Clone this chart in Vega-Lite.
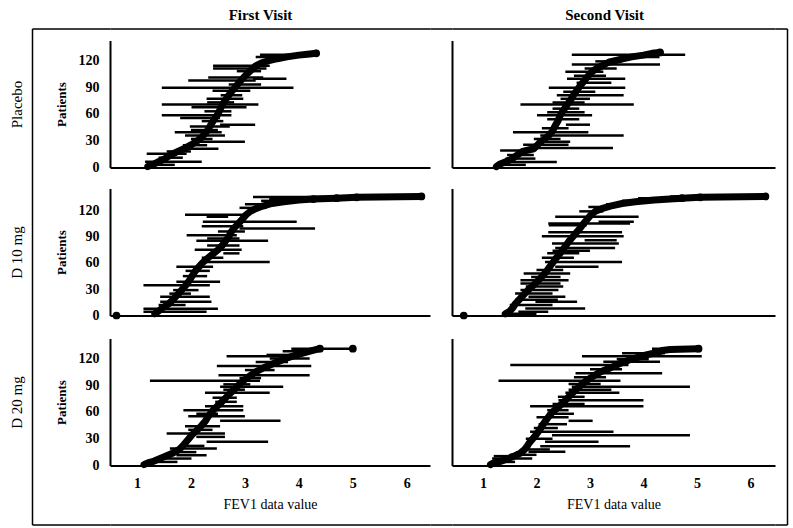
{
"$schema": "https://vega.github.io/schema/vega-lite/v6.json",
"padding": {"left": 9, "top": 6.5, "right": 4, "bottom": 2},
"background": "white",
"config": {"view": {"stroke": null}, "font": "Liberation Serif",
  "axis": {"grid": false, "ticks": false, "labelOverlap": false, "domainColor": "black", "labelColor": "black", "titleColor": "black", "labelFont": "Liberation Serif", "titleFont": "Liberation Serif"},
  "axisY": {"labelOverlap": false}},
"datasets": {
"z": [{"z": 0}],
"curve": [
{"g":"P1","p":1,"v":1.20},{"g":"P1","p":4,"v":1.32},{"g":"P1","p":7,"v":1.42},{"g":"P1","p":10,"v":1.52},{"g":"P1","p":14,"v":1.62},{"g":"P1","p":18,"v":1.76},{"g":"P1","p":22,"v":1.90},{"g":"P1","p":26,"v":2.02},{"g":"P1","p":30,"v":2.12},{"g":"P1","p":34,"v":2.20},{"g":"P1","p":38,"v":2.26},{"g":"P1","p":42,"v":2.31},{"g":"P1","p":46,"v":2.35},{"g":"P1","p":50,"v":2.39},{"g":"P1","p":55,"v":2.44},{"g":"P1","p":60,"v":2.50},{"g":"P1","p":65,"v":2.54},{"g":"P1","p":70,"v":2.58},{"g":"P1","p":75,"v":2.63},{"g":"P1","p":80,"v":2.69},{"g":"P1","p":85,"v":2.75},{"g":"P1","p":90,"v":2.82},{"g":"P1","p":95,"v":2.89},{"g":"P1","p":100,"v":2.96},{"g":"P1","p":105,"v":3.04},{"g":"P1","p":110,"v":3.13},{"g":"P1","p":114,"v":3.20},{"g":"P1","p":117,"v":3.30},{"g":"P1","p":120,"v":3.45},{"g":"P1","p":122,"v":3.60},{"g":"P1","p":124,"v":3.78},{"g":"P1","p":126,"v":4.00},{"g":"P1","p":127,"v":4.16},{"g":"P1","p":128,"v":4.32},
{"g":"P2","p":1,"v":1.25},{"g":"P2","p":4,"v":1.32},{"g":"P2","p":7,"v":1.45},{"g":"P2","p":10,"v":1.55},{"g":"P2","p":14,"v":1.64},{"g":"P2","p":18,"v":1.74},{"g":"P2","p":21,"v":1.95},{"g":"P2","p":24,"v":2.00},{"g":"P2","p":28,"v":2.06},{"g":"P2","p":32,"v":2.15},{"g":"P2","p":36,"v":2.23},{"g":"P2","p":41,"v":2.30},{"g":"P2","p":47,"v":2.35},{"g":"P2","p":52,"v":2.40},{"g":"P2","p":58,"v":2.44},{"g":"P2","p":64,"v":2.50},{"g":"P2","p":70,"v":2.57},{"g":"P2","p":75,"v":2.63},{"g":"P2","p":81,"v":2.69},{"g":"P2","p":86,"v":2.75},{"g":"P2","p":92,"v":2.82},{"g":"P2","p":97,"v":2.89},{"g":"P2","p":103,"v":2.97},{"g":"P2","p":107,"v":3.03},{"g":"P2","p":110,"v":3.10},{"g":"P2","p":114,"v":3.22},{"g":"P2","p":118,"v":3.35},{"g":"P2","p":121,"v":3.55},{"g":"P2","p":124,"v":3.78},{"g":"P2","p":126,"v":4.00},{"g":"P2","p":128,"v":4.16},{"g":"P2","p":129,"v":4.31},
{"g":"D1","p":2,"v":1.33},{"g":"D1","p":5,"v":1.40},{"g":"D1","p":9,"v":1.48},{"g":"D1","p":13,"v":1.58},{"g":"D1","p":17,"v":1.65},{"g":"D1","p":21,"v":1.71},{"g":"D1","p":25,"v":1.77},{"g":"D1","p":30,"v":1.84},{"g":"D1","p":35,"v":1.91},{"g":"D1","p":40,"v":1.97},{"g":"D1","p":45,"v":2.02},{"g":"D1","p":50,"v":2.07},{"g":"D1","p":55,"v":2.14},{"g":"D1","p":60,"v":2.21},{"g":"D1","p":65,"v":2.30},{"g":"D1","p":70,"v":2.40},{"g":"D1","p":75,"v":2.50},{"g":"D1","p":80,"v":2.58},{"g":"D1","p":85,"v":2.64},{"g":"D1","p":90,"v":2.70},{"g":"D1","p":95,"v":2.74},{"g":"D1","p":100,"v":2.80},{"g":"D1","p":105,"v":2.88},{"g":"D1","p":110,"v":2.95},{"g":"D1","p":115,"v":3.02},{"g":"D1","p":119,"v":3.10},{"g":"D1","p":122,"v":3.20},{"g":"D1","p":125,"v":3.33},{"g":"D1","p":128,"v":3.50},{"g":"D1","p":130,"v":3.72},{"g":"D1","p":132,"v":4.00},{"g":"D1","p":133,"v":4.27},{"g":"D1","p":134,"v":4.70},{"g":"D1","p":135,"v":5.07},{"g":"D1","p":136,"v":6.27},
{"g":"D2","p":2,"v":1.42},{"g":"D2","p":5,"v":1.50},{"g":"D2","p":9,"v":1.56},{"g":"D2","p":13,"v":1.60},{"g":"D2","p":17,"v":1.66},{"g":"D2","p":21,"v":1.72},{"g":"D2","p":25,"v":1.78},{"g":"D2","p":30,"v":1.86},{"g":"D2","p":35,"v":1.95},{"g":"D2","p":40,"v":2.03},{"g":"D2","p":45,"v":2.11},{"g":"D2","p":50,"v":2.18},{"g":"D2","p":55,"v":2.24},{"g":"D2","p":60,"v":2.30},{"g":"D2","p":65,"v":2.36},{"g":"D2","p":70,"v":2.43},{"g":"D2","p":75,"v":2.49},{"g":"D2","p":80,"v":2.55},{"g":"D2","p":85,"v":2.61},{"g":"D2","p":90,"v":2.68},{"g":"D2","p":95,"v":2.75},{"g":"D2","p":100,"v":2.82},{"g":"D2","p":105,"v":2.88},{"g":"D2","p":110,"v":2.95},{"g":"D2","p":115,"v":3.02},{"g":"D2","p":119,"v":3.10},{"g":"D2","p":122,"v":3.22},{"g":"D2","p":125,"v":3.38},{"g":"D2","p":128,"v":3.60},{"g":"D2","p":130,"v":3.85},{"g":"D2","p":132,"v":4.20},{"g":"D2","p":134,"v":4.72},{"g":"D2","p":135,"v":5.06},{"g":"D2","p":136,"v":6.28},
{"g":"E1","p":1,"v":1.13},{"g":"E1","p":3,"v":1.20},{"g":"E1","p":5,"v":1.32},{"g":"E1","p":8,"v":1.43},{"g":"E1","p":11,"v":1.55},{"g":"E1","p":14,"v":1.67},{"g":"E1","p":18,"v":1.78},{"g":"E1","p":22,"v":1.85},{"g":"E1","p":25,"v":1.89},{"g":"E1","p":30,"v":1.96},{"g":"E1","p":35,"v":2.03},{"g":"E1","p":40,"v":2.12},{"g":"E1","p":45,"v":2.20},{"g":"E1","p":50,"v":2.27},{"g":"E1","p":55,"v":2.32},{"g":"E1","p":60,"v":2.38},{"g":"E1","p":65,"v":2.46},{"g":"E1","p":70,"v":2.55},{"g":"E1","p":75,"v":2.63},{"g":"E1","p":80,"v":2.71},{"g":"E1","p":85,"v":2.80},{"g":"E1","p":90,"v":2.88},{"g":"E1","p":95,"v":2.97},{"g":"E1","p":100,"v":3.08},{"g":"E1","p":105,"v":3.20},{"g":"E1","p":110,"v":3.36},{"g":"E1","p":114,"v":3.52},{"g":"E1","p":118,"v":3.68},{"g":"E1","p":121,"v":3.80},{"g":"E1","p":124,"v":3.96},{"g":"E1","p":127,"v":4.14},{"g":"E1","p":129,"v":4.26},{"g":"E1","p":131,"v":4.39},
{"g":"E2","p":1,"v":1.14},{"g":"E2","p":3,"v":1.20},{"g":"E2","p":5,"v":1.35},{"g":"E2","p":8,"v":1.48},{"g":"E2","p":11,"v":1.60},{"g":"E2","p":14,"v":1.70},{"g":"E2","p":18,"v":1.78},{"g":"E2","p":22,"v":1.83},{"g":"E2","p":25,"v":1.86},{"g":"E2","p":30,"v":1.93},{"g":"E2","p":35,"v":2.00},{"g":"E2","p":40,"v":2.06},{"g":"E2","p":45,"v":2.11},{"g":"E2","p":50,"v":2.17},{"g":"E2","p":55,"v":2.23},{"g":"E2","p":60,"v":2.30},{"g":"E2","p":65,"v":2.40},{"g":"E2","p":70,"v":2.49},{"g":"E2","p":75,"v":2.57},{"g":"E2","p":80,"v":2.65},{"g":"E2","p":85,"v":2.74},{"g":"E2","p":90,"v":2.83},{"g":"E2","p":95,"v":2.93},{"g":"E2","p":100,"v":3.06},{"g":"E2","p":105,"v":3.20},{"g":"E2","p":110,"v":3.40},{"g":"E2","p":114,"v":3.55},{"g":"E2","p":118,"v":3.72},{"g":"E2","p":121,"v":3.88},{"g":"E2","p":124,"v":4.05},{"g":"E2","p":127,"v":4.28},{"g":"E2","p":129,"v":4.35},{"g":"E2","p":130,"v":4.50},{"g":"E2","p":131,"v":5.03}
],
"rng": [
{"g":"P1","p":126.5,"lo":3.28,"hi":4.33},{"g":"P1","p":124,"lo":3.2,"hi":3.9},{"g":"P1","p":114,"lo":2.41,"hi":3.46},{"g":"P1","p":111,"lo":2.41,"hi":3.40},{"g":"P1","p":108,"lo":2.85,"hi":3.3},{"g":"P1","p":101,"lo":2.32,"hi":3.34},{"g":"P1","p":99.5,"lo":3.15,"hi":3.77},{"g":"P1","p":97.5,"lo":1.95,"hi":3.2},{"g":"P1","p":93,"lo":2.7,"hi":3.3},{"g":"P1","p":89.5,"lo":1.46,"hi":3.9},{"g":"P1","p":86,"lo":2.4,"hi":3.1},{"g":"P1","p":81,"lo":2.55,"hi":2.95},{"g":"P1","p":77,"lo":2.29,"hi":2.97},{"g":"P1","p":73,"lo":2.3,"hi":2.8},{"g":"P1","p":70.5,"lo":1.46,"hi":3.25},{"g":"P1","p":67.5,"lo":2.01,"hi":3.03},{"g":"P1","p":63,"lo":2.25,"hi":2.75},{"g":"P1","p":58.5,"lo":1.46,"hi":2.75},{"g":"P1","p":55.5,"lo":1.8,"hi":2.54},{"g":"P1","p":52,"lo":2.2,"hi":2.6},{"g":"P1","p":48,"lo":2.54,"hi":3.19},{"g":"P1","p":46,"lo":1.98,"hi":2.72},{"g":"P1","p":42,"lo":2.0,"hi":2.5},{"g":"P1","p":39.5,"lo":1.70,"hi":2.57},{"g":"P1","p":36,"lo":1.89,"hi":2.63},{"g":"P1","p":32,"lo":2.0,"hi":2.4},{"g":"P1","p":29,"lo":2.05,"hi":3.0},{"g":"P1","p":25,"lo":1.85,"hi":2.3},{"g":"P1","p":21,"lo":1.89,"hi":2.51},{"g":"P1","p":18,"lo":1.55,"hi":2.0},{"g":"P1","p":15.5,"lo":1.18,"hi":1.92},{"g":"P1","p":11,"lo":1.4,"hi":1.85},{"g":"P1","p":6.5,"lo":1.15,"hi":2.2},{"g":"P1","p":3,"lo":1.2,"hi":1.7},
{"g":"P2","p":126.5,"lo":2.66,"hi":4.78},{"g":"P2","p":124,"lo":3.6,"hi":4.3},{"g":"P2","p":119,"lo":3.1,"hi":3.6},{"g":"P2","p":115.5,"lo":2.66,"hi":4.31},{"g":"P2","p":111,"lo":2.9,"hi":3.5},{"g":"P2","p":107.5,"lo":2.54,"hi":3.25},{"g":"P2","p":103,"lo":2.7,"hi":3.3},{"g":"P2","p":99.5,"lo":2.57,"hi":3.66},{"g":"P2","p":95,"lo":2.75,"hi":3.4},{"g":"P2","p":89.5,"lo":2.23,"hi":3.66},{"g":"P2","p":85,"lo":2.5,"hi":3.1},{"g":"P2","p":81,"lo":2.38,"hi":3.63},{"g":"P2","p":77,"lo":2.45,"hi":3.0},{"g":"P2","p":73,"lo":2.3,"hi":2.9},{"g":"P2","p":70.5,"lo":1.70,"hi":3.82},{"g":"P2","p":66,"lo":2.3,"hi":2.8},{"g":"P2","p":62,"lo":2.2,"hi":2.9},{"g":"P2","p":58.5,"lo":2.01,"hi":3.04},{"g":"P2","p":54,"lo":2.2,"hi":2.8},{"g":"P2","p":48,"lo":2.55,"hi":3.0},{"g":"P2","p":44,"lo":2.1,"hi":2.6},{"g":"P2","p":39.5,"lo":1.56,"hi":2.97},{"g":"P2","p":36,"lo":2.07,"hi":3.63},{"g":"P2","p":32,"lo":1.95,"hi":2.45},{"g":"P2","p":29,"lo":2.04,"hi":2.63},{"g":"P2","p":25.5,"lo":1.75,"hi":2.6},{"g":"P2","p":22,"lo":2.01,"hi":3.43},{"g":"P2","p":19,"lo":1.32,"hi":1.92},{"g":"P2","p":14,"lo":1.45,"hi":1.95},{"g":"P2","p":10,"lo":1.42,"hi":1.98},{"g":"P2","p":6.2,"lo":1.32,"hi":2.38},{"g":"P2","p":3,"lo":1.3,"hi":1.8},
{"g":"D1","p":135.5,"lo":3.15,"hi":6.27},{"g":"D1","p":133,"lo":3.45,"hi":4.15},{"g":"D1","p":131,"lo":3.3,"hi":3.8},{"g":"D1","p":127,"lo":3.0,"hi":3.6},{"g":"D1","p":123,"lo":2.9,"hi":3.4},{"g":"D1","p":115,"lo":1.89,"hi":2.97},{"g":"D1","p":112.8,"lo":2.29,"hi":2.69},{"g":"D1","p":107,"lo":2.22,"hi":3.96},{"g":"D1","p":102,"lo":2.20,"hi":2.97},{"g":"D1","p":99.5,"lo":2.9,"hi":4.30},{"g":"D1","p":96,"lo":2.5,"hi":3.0},{"g":"D1","p":91.8,"lo":1.92,"hi":2.85},{"g":"D1","p":88,"lo":2.3,"hi":2.9},{"g":"D1","p":85.5,"lo":2.10,"hi":3.43},{"g":"D1","p":80,"lo":2.3,"hi":2.9},{"g":"D1","p":75,"lo":2.07,"hi":2.94},{"g":"D1","p":71,"lo":2.6,"hi":2.9},{"g":"D1","p":66,"lo":2.2,"hi":2.6},{"g":"D1","p":61,"lo":2.22,"hi":3.46},{"g":"D1","p":55.6,"lo":1.73,"hi":2.41},{"g":"D1","p":51,"lo":1.9,"hi":2.35},{"g":"D1","p":45,"lo":1.85,"hi":2.3},{"g":"D1","p":38.5,"lo":1.73,"hi":2.54},{"g":"D1","p":34.5,"lo":1.12,"hi":2.35},{"g":"D1","p":29,"lo":1.67,"hi":2.14},{"g":"D1","p":25,"lo":1.6,"hi":2.0},{"g":"D1","p":21.4,"lo":1.43,"hi":2.35},{"g":"D1","p":15.7,"lo":1.43,"hi":2.38},{"g":"D1","p":12,"lo":1.4,"hi":1.9},{"g":"D1","p":7.8,"lo":1.12,"hi":2.50},{"g":"D1","p":4.3,"lo":1.12,"hi":2.29},
{"g":"D2","p":136,"lo":4.5,"hi":6.28},{"g":"D2","p":134,"lo":3.9,"hi":4.8},{"g":"D2","p":131,"lo":3.6,"hi":4.2},{"g":"D2","p":127,"lo":3.3,"hi":3.7},{"g":"D2","p":124,"lo":2.97,"hi":3.35},{"g":"D2","p":119,"lo":2.8,"hi":3.25},{"g":"D2","p":112.8,"lo":2.35,"hi":3.91},{"g":"D2","p":107,"lo":3.16,"hi":3.82},{"g":"D2","p":105,"lo":2.22,"hi":3.75},{"g":"D2","p":103,"lo":2.23,"hi":2.94},{"g":"D2","p":95,"lo":2.22,"hi":3.60},{"g":"D2","p":90.6,"lo":2.10,"hi":3.63},{"g":"D2","p":86,"lo":2.9,"hi":3.5},{"g":"D2","p":82.3,"lo":2.29,"hi":3.54},{"g":"D2","p":77,"lo":2.35,"hi":3.47},{"g":"D2","p":74,"lo":2.3,"hi":3.0},{"g":"D2","p":71,"lo":2.2,"hi":2.8},{"g":"D2","p":66,"lo":2.1,"hi":2.7},{"g":"D2","p":61,"lo":2.16,"hi":3.60},{"g":"D2","p":55.6,"lo":2.35,"hi":3.16},{"g":"D2","p":52,"lo":2.0,"hi":2.5},{"g":"D2","p":48,"lo":1.76,"hi":2.63},{"g":"D2","p":44,"lo":1.9,"hi":2.45},{"g":"D2","p":40.4,"lo":1.70,"hi":2.60},{"g":"D2","p":36.6,"lo":1.70,"hi":2.45},{"g":"D2","p":33,"lo":1.8,"hi":2.5},{"g":"D2","p":29,"lo":1.70,"hi":2.41},{"g":"D2","p":25,"lo":1.6,"hi":2.3},{"g":"D2","p":21.3,"lo":1.85,"hi":2.54},{"g":"D2","p":18,"lo":1.6,"hi":2.4},{"g":"D2","p":15.6,"lo":1.98,"hi":2.76},{"g":"D2","p":12,"lo":1.5,"hi":2.3},{"g":"D2","p":8,"lo":1.79,"hi":2.91},{"g":"D2","p":4.3,"lo":1.66,"hi":2.22},{"g":"D2","p":2,"lo":1.35,"hi":2.0},
{"g":"E1","p":131,"lo":3.86,"hi":5.00},{"g":"E1","p":128,"lo":3.7,"hi":4.3},{"g":"E1","p":124,"lo":3.4,"hi":3.95},{"g":"E1","p":122.6,"lo":2.66,"hi":3.71},{"g":"E1","p":120,"lo":3.46,"hi":4.20},{"g":"E1","p":116,"lo":3.2,"hi":3.8},{"g":"E1","p":111.7,"lo":2.48,"hi":4.23},{"g":"E1","p":107,"lo":3.0,"hi":3.55},{"g":"E1","p":101.3,"lo":2.51,"hi":4.20},{"g":"E1","p":98,"lo":2.9,"hi":3.3},{"g":"E1","p":95,"lo":1.24,"hi":3.28},{"g":"E1","p":91,"lo":2.6,"hi":3.1},{"g":"E1","p":88.2,"lo":2.54,"hi":3.71},{"g":"E1","p":85,"lo":2.6,"hi":3.0},{"g":"E1","p":81.5,"lo":2.26,"hi":3.46},{"g":"E1","p":76,"lo":2.4,"hi":2.85},{"g":"E1","p":71.4,"lo":2.45,"hi":2.85},{"g":"E1","p":66.5,"lo":2.26,"hi":2.97},{"g":"E1","p":62,"lo":1.86,"hi":2.97},{"g":"E1","p":58,"lo":2.1,"hi":2.5},{"g":"E1","p":55.3,"lo":1.95,"hi":3.00},{"g":"E1","p":50.1,"lo":2.54,"hi":3.66},{"g":"E1","p":44.1,"lo":1.89,"hi":2.54},{"g":"E1","p":40,"lo":1.95,"hi":2.4},{"g":"E1","p":35.9,"lo":1.55,"hi":2.63},{"g":"E1","p":32.1,"lo":2.1,"hi":2.63},{"g":"E1","p":26.5,"lo":2.29,"hi":3.43},{"g":"E1","p":22,"lo":1.8,"hi":2.25},{"g":"E1","p":19,"lo":1.61,"hi":2.48},{"g":"E1","p":15,"lo":1.6,"hi":2.1},{"g":"E1","p":11.5,"lo":1.73,"hi":2.29},{"g":"E1","p":7.8,"lo":1.49,"hi":2.01},{"g":"E1","p":4,"lo":1.3,"hi":1.75},
{"g":"E2","p":131,"lo":4.16,"hi":5.03},{"g":"E2","p":126,"lo":3.6,"hi":4.4},{"g":"E2","p":122.6,"lo":2.85,"hi":5.09},{"g":"E2","p":119,"lo":3.5,"hi":4.1},{"g":"E2","p":116.3,"lo":3.25,"hi":4.31},{"g":"E2","p":112.6,"lo":1.51,"hi":3.72},{"g":"E2","p":108,"lo":3.0,"hi":3.6},{"g":"E2","p":103.3,"lo":2.73,"hi":4.35},{"g":"E2","p":99,"lo":2.7,"hi":3.3},{"g":"E2","p":95,"lo":1.29,"hi":3.57},{"g":"E2","p":91.5,"lo":2.6,"hi":3.2},{"g":"E2","p":88.2,"lo":2.66,"hi":4.87},{"g":"E2","p":85,"lo":2.6,"hi":3.4},{"g":"E2","p":81.5,"lo":2.54,"hi":3.55},{"g":"E2","p":77,"lo":2.4,"hi":2.9},{"g":"E2","p":73.3,"lo":2.41,"hi":4.00},{"g":"E2","p":69,"lo":2.3,"hi":2.9},{"g":"E2","p":66.5,"lo":1.88,"hi":4.00},{"g":"E2","p":62,"lo":2.2,"hi":2.6},{"g":"E2","p":58,"lo":2.2,"hi":2.7},{"g":"E2","p":54,"lo":2.0,"hi":2.6},{"g":"E2","p":50.1,"lo":2.6,"hi":3.05},{"g":"E2","p":46.3,"lo":2.04,"hi":2.57},{"g":"E2","p":42,"lo":1.95,"hi":2.4},{"g":"E2","p":37.8,"lo":1.88,"hi":3.44},{"g":"E2","p":34,"lo":2.29,"hi":4.87},{"g":"E2","p":30,"lo":1.8,"hi":2.3},{"g":"E2","p":26.5,"lo":2.16,"hi":3.16},{"g":"E2","p":21.6,"lo":2.07,"hi":3.75},{"g":"E2","p":18,"lo":1.75,"hi":2.25},{"g":"E2","p":15.3,"lo":1.85,"hi":2.54},{"g":"E2","p":12,"lo":1.5,"hi":2.0},{"g":"E2","p":10.5,"lo":1.20,"hi":1.67},{"g":"E2","p":7.8,"lo":1.17,"hi":1.92},{"g":"E2","p":4,"lo":1.2,"hi":1.6}
],
"dots": [
{"g":"P1","p":128,"v":4.32},{"g":"P2","p":129,"v":4.31},
{"g":"D1","p":0,"v":0.62},{"g":"D1","p":133,"v":4.27},{"g":"D1","p":134,"v":4.70},{"g":"D1","p":135,"v":5.07},{"g":"D1","p":136,"v":6.27},
{"g":"D2","p":0,"v":0.64},{"g":"D2","p":134,"v":4.72},{"g":"D2","p":135,"v":5.06},{"g":"D2","p":136,"v":6.28},
{"g":"E1","p":131,"v":4.39},{"g":"E1","p":131,"v":5.00},
{"g":"E2","p":131,"v":5.03}
]
},
"columns": 5, "spacing": 0, "bounds": "flush", "align": "each",
"concat": [
{"width":78,"height":12,"data":{"name":"z"},"mark":{"type":"point","opacity":0},"encoding":{"x":{"field":"z","type":"quantitative","scale":{"domain":[0,1]},"axis":{"orient":"top","labels":false,"title":null,"domainWidth":1.5}},"y":{"field":"z","type":"quantitative","scale":{"domain":[0,1]},"axis":{"orient":"left","labels":false,"title":null,"domainWidth":1.5}}}},
{"width":320,"height":12,"data":{"name":"z"},"mark":{"type":"point","opacity":0},"encoding":{"x":{"field":"z","type":"quantitative","scale":{"domain":[0,1]},"axis":{"orient":"top","labels":false,"title":"First Visit","titleFontSize":15,"titleFontWeight":"bold","titlePadding":6.5,"titleX":150,"domainWidth":1.5}}}},
{"width":22,"height":12,"data":{"name":"z"},"mark":{"type":"point","opacity":0},"encoding":{"x":{"field":"z","type":"quantitative","scale":{"domain":[0,1]},"axis":{"orient":"top","labels":false,"title":null,"domainWidth":1.5}}}},
{"width":323,"height":12,"data":{"name":"z"},"mark":{"type":"point","opacity":0},"encoding":{"x":{"field":"z","type":"quantitative","scale":{"domain":[0,1]},"axis":{"orient":"top","labels":false,"title":"Second Visit","titleFontSize":15,"titleFontWeight":"bold","titlePadding":6.5,"titleX":152,"domainWidth":1.5}}}},
{"width":12,"height":12,"data":{"name":"z"},"mark":{"type":"point","opacity":0},"encoding":{"x":{"field":"z","type":"quantitative","scale":{"domain":[0,1]},"axis":{"orient":"top","labels":false,"title":null,"domainWidth":1.5}},"y":{"field":"z","type":"quantitative","scale":{"domain":[0,1]},"axis":{"orient":"right","labels":false,"title":null,"domainWidth":1.5}}}},

{"width":78,"height":127,"data":{"name":"z"},"mark":{"type":"point","opacity":0},"encoding":{"y":{"field":"z","type":"quantitative","scale":{"domain":[0,1]},"axis":{"orient":"left","labels":false,"title":"Placebo","titleFontSize":15,"titleFontWeight":"normal","titlePadding":8,"domainWidth":1.5}}}},
{"width":320,"height":127,"encoding":{"y":{"field":"p","type":"quantitative","scale":{"domain":[0,142.4],"nice":false},"axis":{"values":[0,30,60,90,120],"labelOverlap":false,"labelSeparation":0,"title":"Patients","labelFontSize":14,"labelFontWeight":"bold","labelPadding":11,"titleFontSize":13,"titleFontWeight":"bold","titlePadding":10,"domainWidth":2}}},"layer":[
 {"data":{"name":"rng"},"transform":[{"filter":"datum.g==='P1'"}],"mark":{"type":"rule","color":"black","strokeWidth":2.5},"encoding":{"x":{"field":"lo","type":"quantitative","scale":{"domain":[0.5,6.43],"nice":false,"zero":false},"axis":{"labels":false,"title":null,"domainWidth":2}},"x2":{"field":"hi"}}},
 {"data":{"name":"curve"},"transform":[{"filter":"datum.g==='P1'"}],"mark":{"type":"line","color":"black","strokeWidth":7,"strokeJoin":"round","strokeCap":"round"},"encoding":{"x":{"field":"v","type":"quantitative"},"order":{"field":"p","type":"quantitative"}}},
 {"data":{"name":"dots"},"transform":[{"filter":"datum.g==='P1'"}],"mark":{"type":"circle","color":"black","size":60,"opacity":1},"encoding":{"x":{"field":"v","type":"quantitative"}}}
]},
{"width":22,"height":127,"data":{"name":"z"},"mark":{"type":"point","opacity":0}},
{"width":323,"height":127,"layer":[
 {"data":{"name":"rng"},"transform":[{"filter":"datum.g==='P2'"}],"mark":{"type":"rule","color":"black","strokeWidth":2.5},"encoding":{"x":{"field":"lo","type":"quantitative","scale":{"domain":[0.42,6.46],"nice":false,"zero":false},"axis":{"labels":false,"title":null,"domainWidth":2}},"x2":{"field":"hi"},"y":{"field":"p","type":"quantitative","scale":{"domain":[0,142.4],"nice":false},"axis":{"labels":false,"title":null,"domainWidth":2}}}},
 {"data":{"name":"curve"},"transform":[{"filter":"datum.g==='P2'"}],"mark":{"type":"line","color":"black","strokeWidth":7,"strokeJoin":"round","strokeCap":"round"},"encoding":{"x":{"field":"v","type":"quantitative"},"y":{"field":"p","type":"quantitative"},"order":{"field":"p","type":"quantitative"}}},
 {"data":{"name":"dots"},"transform":[{"filter":"datum.g==='P2'"}],"mark":{"type":"circle","color":"black","size":60,"opacity":1},"encoding":{"x":{"field":"v","type":"quantitative"},"y":{"field":"p","type":"quantitative"}}}
]},
{"width":12,"height":127,"data":{"name":"z"},"mark":{"type":"point","opacity":0},"encoding":{"y":{"field":"z","type":"quantitative","scale":{"domain":[0,1]},"axis":{"orient":"right","labels":false,"title":null,"domainWidth":1.5}}}},

{"width":78,"height":21,"data":{"name":"z"},"mark":{"type":"point","opacity":0},"encoding":{"y":{"field":"z","type":"quantitative","scale":{"domain":[0,1]},"axis":{"orient":"left","labels":false,"title":null,"domainWidth":1.5}}}},
{"width":320,"height":21,"data":{"name":"z"},"mark":{"type":"point","opacity":0}},
{"width":22,"height":21,"data":{"name":"z"},"mark":{"type":"point","opacity":0}},
{"width":323,"height":21,"data":{"name":"z"},"mark":{"type":"point","opacity":0}},
{"width":12,"height":21,"data":{"name":"z"},"mark":{"type":"point","opacity":0},"encoding":{"y":{"field":"z","type":"quantitative","scale":{"domain":[0,1]},"axis":{"orient":"right","labels":false,"title":null,"domainWidth":1.5}}}},

{"width":78,"height":127,"data":{"name":"z"},"mark":{"type":"point","opacity":0},"encoding":{"y":{"field":"z","type":"quantitative","scale":{"domain":[0,1]},"axis":{"orient":"left","labels":false,"title":"D 10 mg","titleFontSize":15,"titleFontWeight":"normal","titlePadding":8,"domainWidth":1.5}}}},
{"width":320,"height":127,"encoding":{"y":{"field":"p","type":"quantitative","scale":{"domain":[0,145.1],"nice":false},"axis":{"values":[0,30,60,90,120],"labelOverlap":false,"labelSeparation":0,"title":"Patients","labelFontSize":14,"labelFontWeight":"bold","labelPadding":11,"titleFontSize":13,"titleFontWeight":"bold","titlePadding":10,"domainWidth":2}}},"layer":[
 {"data":{"name":"rng"},"transform":[{"filter":"datum.g==='D1'"}],"mark":{"type":"rule","color":"black","strokeWidth":2.5},"encoding":{"x":{"field":"lo","type":"quantitative","scale":{"domain":[0.5,6.43],"nice":false,"zero":false},"axis":{"labels":false,"title":null,"domainWidth":2}},"x2":{"field":"hi"}}},
 {"data":{"name":"curve"},"transform":[{"filter":"datum.g==='D1'"}],"mark":{"type":"line","color":"black","strokeWidth":7,"strokeJoin":"round","strokeCap":"round"},"encoding":{"x":{"field":"v","type":"quantitative"},"order":{"field":"p","type":"quantitative"}}},
 {"data":{"name":"dots"},"transform":[{"filter":"datum.g==='D1'"}],"mark":{"type":"circle","color":"black","size":60,"opacity":1},"encoding":{"x":{"field":"v","type":"quantitative"}}}
]},
{"width":22,"height":127,"data":{"name":"z"},"mark":{"type":"point","opacity":0}},
{"width":323,"height":127,"layer":[
 {"data":{"name":"rng"},"transform":[{"filter":"datum.g==='D2'"}],"mark":{"type":"rule","color":"black","strokeWidth":2.5},"encoding":{"x":{"field":"lo","type":"quantitative","scale":{"domain":[0.42,6.46],"nice":false,"zero":false},"axis":{"labels":false,"title":null,"domainWidth":2}},"x2":{"field":"hi"},"y":{"field":"p","type":"quantitative","scale":{"domain":[0,145.1],"nice":false},"axis":{"labels":false,"title":null,"domainWidth":2}}}},
 {"data":{"name":"curve"},"transform":[{"filter":"datum.g==='D2'"}],"mark":{"type":"line","color":"black","strokeWidth":7,"strokeJoin":"round","strokeCap":"round"},"encoding":{"x":{"field":"v","type":"quantitative"},"y":{"field":"p","type":"quantitative"},"order":{"field":"p","type":"quantitative"}}},
 {"data":{"name":"dots"},"transform":[{"filter":"datum.g==='D2'"}],"mark":{"type":"circle","color":"black","size":60,"opacity":1},"encoding":{"x":{"field":"v","type":"quantitative"},"y":{"field":"p","type":"quantitative"}}}
]},
{"width":12,"height":127,"data":{"name":"z"},"mark":{"type":"point","opacity":0},"encoding":{"y":{"field":"z","type":"quantitative","scale":{"domain":[0,1]},"axis":{"orient":"right","labels":false,"title":null,"domainWidth":1.5}}}},

{"width":78,"height":23,"data":{"name":"z"},"mark":{"type":"point","opacity":0},"encoding":{"y":{"field":"z","type":"quantitative","scale":{"domain":[0,1]},"axis":{"orient":"left","labels":false,"title":null,"domainWidth":1.5}}}},
{"width":320,"height":23,"data":{"name":"z"},"mark":{"type":"point","opacity":0}},
{"width":22,"height":23,"data":{"name":"z"},"mark":{"type":"point","opacity":0}},
{"width":323,"height":23,"data":{"name":"z"},"mark":{"type":"point","opacity":0}},
{"width":12,"height":23,"data":{"name":"z"},"mark":{"type":"point","opacity":0},"encoding":{"y":{"field":"z","type":"quantitative","scale":{"domain":[0,1]},"axis":{"orient":"right","labels":false,"title":null,"domainWidth":1.5}}}},

{"width":78,"height":127,"data":{"name":"z"},"mark":{"type":"point","opacity":0},"encoding":{"y":{"field":"z","type":"quantitative","scale":{"domain":[0,1]},"axis":{"orient":"left","labels":false,"title":"D 20 mg","titleFontSize":15,"titleFontWeight":"normal","titlePadding":8,"domainWidth":1.5}}}},
{"width":320,"height":127,"encoding":{"y":{"field":"p","type":"quantitative","scale":{"domain":[0,142.4],"nice":false},"axis":{"values":[0,30,60,90,120],"labelOverlap":false,"labelSeparation":0,"title":"Patients","labelFontSize":14,"labelFontWeight":"bold","labelPadding":11,"titleFontSize":13,"titleFontWeight":"bold","titlePadding":10,"domainWidth":2}}},"layer":[
 {"data":{"name":"rng"},"transform":[{"filter":"datum.g==='E1'"}],"mark":{"type":"rule","color":"black","strokeWidth":2.5},"encoding":{"x":{"field":"lo","type":"quantitative","scale":{"domain":[0.5,6.43],"nice":false,"zero":false},"axis":{"values":[1,2,3,4,5,6],"format":"d","title":"FEV1 data value","labelFontSize":14,"labelFontWeight":"bold","labelPadding":11,"titleFontSize":14,"titleFontWeight":"normal","titlePadding":7,"domainWidth":2}},"x2":{"field":"hi"}}},
 {"data":{"name":"curve"},"transform":[{"filter":"datum.g==='E1'"}],"mark":{"type":"line","color":"black","strokeWidth":7,"strokeJoin":"round","strokeCap":"round"},"encoding":{"x":{"field":"v","type":"quantitative"},"order":{"field":"p","type":"quantitative"}}},
 {"data":{"name":"dots"},"transform":[{"filter":"datum.g==='E1'"}],"mark":{"type":"circle","color":"black","size":60,"opacity":1},"encoding":{"x":{"field":"v","type":"quantitative"}}}
]},
{"width":22,"height":127,"data":{"name":"z"},"mark":{"type":"point","opacity":0}},
{"width":323,"height":127,"layer":[
 {"data":{"name":"rng"},"transform":[{"filter":"datum.g==='E2'"}],"mark":{"type":"rule","color":"black","strokeWidth":2.5},"encoding":{"x":{"field":"lo","type":"quantitative","scale":{"domain":[0.42,6.46],"nice":false,"zero":false},"axis":{"values":[1,2,3,4,5,6],"format":"d","title":"FEV1 data value","labelFontSize":14,"labelFontWeight":"bold","labelPadding":11,"titleFontSize":14,"titleFontWeight":"normal","titlePadding":7,"domainWidth":2}},"x2":{"field":"hi"},"y":{"field":"p","type":"quantitative","scale":{"domain":[0,142.4],"nice":false},"axis":{"labels":false,"title":null,"domainWidth":2}}}},
 {"data":{"name":"curve"},"transform":[{"filter":"datum.g==='E2'"}],"mark":{"type":"line","color":"black","strokeWidth":7,"strokeJoin":"round","strokeCap":"round"},"encoding":{"x":{"field":"v","type":"quantitative"},"y":{"field":"p","type":"quantitative"},"order":{"field":"p","type":"quantitative"}}},
 {"data":{"name":"dots"},"transform":[{"filter":"datum.g==='E2'"}],"mark":{"type":"circle","color":"black","size":60,"opacity":1},"encoding":{"x":{"field":"v","type":"quantitative"},"y":{"field":"p","type":"quantitative"}}}
]},
{"width":12,"height":127,"data":{"name":"z"},"mark":{"type":"point","opacity":0},"encoding":{"y":{"field":"z","type":"quantitative","scale":{"domain":[0,1]},"axis":{"orient":"right","labels":false,"title":null,"domainWidth":1.5}}}},

{"width":78,"height":59,"data":{"name":"z"},"mark":{"type":"point","opacity":0},"encoding":{"x":{"field":"z","type":"quantitative","scale":{"domain":[0,1]},"axis":{"orient":"bottom","labels":false,"title":null,"domainWidth":1.5}},"y":{"field":"z","type":"quantitative","scale":{"domain":[0,1]},"axis":{"orient":"left","labels":false,"title":null,"domainWidth":1.5}}}},
{"width":320,"height":59,"data":{"name":"z"},"mark":{"type":"point","opacity":0},"encoding":{"x":{"field":"z","type":"quantitative","scale":{"domain":[0,1]},"axis":{"orient":"bottom","labels":false,"title":null,"domainWidth":1.5}}}},
{"width":22,"height":59,"data":{"name":"z"},"mark":{"type":"point","opacity":0},"encoding":{"x":{"field":"z","type":"quantitative","scale":{"domain":[0,1]},"axis":{"orient":"bottom","labels":false,"title":null,"domainWidth":1.5}}}},
{"width":323,"height":59,"data":{"name":"z"},"mark":{"type":"point","opacity":0},"encoding":{"x":{"field":"z","type":"quantitative","scale":{"domain":[0,1]},"axis":{"orient":"bottom","labels":false,"title":null,"domainWidth":1.5}}}},
{"width":12,"height":59,"data":{"name":"z"},"mark":{"type":"point","opacity":0},"encoding":{"x":{"field":"z","type":"quantitative","scale":{"domain":[0,1]},"axis":{"orient":"bottom","labels":false,"title":null,"domainWidth":1.5}},"y":{"field":"z","type":"quantitative","scale":{"domain":[0,1]},"axis":{"orient":"right","labels":false,"title":null,"domainWidth":1.5}}}}
]
}
